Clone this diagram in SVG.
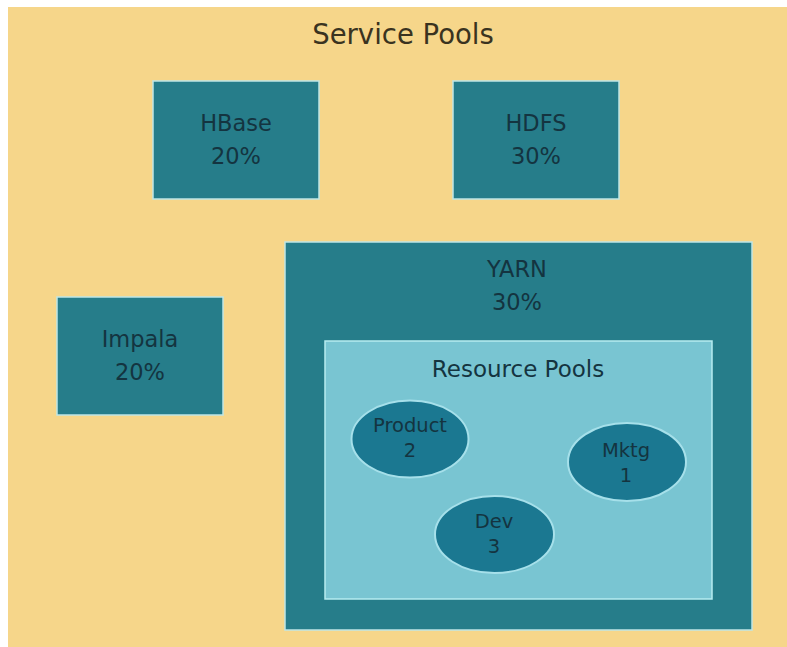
<svg xmlns="http://www.w3.org/2000/svg" width="787" height="647" viewBox="0 0 787 647">
<style>
.box{fill:#267d8a;stroke:#bfe6e6;stroke-width:1.5}
.inner{fill:#79c5d2;stroke:#b6ebf0;stroke-width:1.5}
.pool{fill:#1b7891;stroke:#a6e0ea;stroke-width:2}
text{font-family:"DejaVu Sans","Liberation Sans",sans-serif;fill:#143440;text-anchor:middle}
.t{font-size:27.5px;fill:#3a3320}
.l{font-size:22.5px}
.r{font-size:23px}
.s{font-size:19.5px}
</style>
<rect x="0" y="0" width="787" height="647" fill="#ffffff"/>
<rect id="bg" x="8" y="7" width="779" height="640" fill="#f6d68a"/>
<g id="title"><text class="t" x="403" y="44">Service Pools</text></g>
<g id="hbase"><rect class="box" x="153" y="81" width="166" height="118"/><text class="l" x="236" y="131">HBase</text><text class="l" x="236" y="164">20%</text></g>
<g id="hdfs"><rect class="box" x="453" y="81" width="166" height="118"/><text class="l" x="536" y="131">HDFS</text><text class="l" x="536" y="164">30%</text></g>
<g id="impala"><rect class="box" x="57" y="297" width="166" height="118"/><text class="l" x="140" y="347">Impala</text><text class="l" x="140" y="380">20%</text></g>
<g id="yarn"><rect class="box" x="285" y="242" width="467" height="388"/><text class="l" x="517" y="277">YARN</text><text class="l" x="517" y="310">30%</text></g>
<g id="resource-pools"><rect class="inner" x="325" y="341" width="387" height="258"/><text class="r" x="518" y="377">Resource Pools</text></g>
<g id="product"><ellipse class="pool" cx="410" cy="439" rx="58.5" ry="38.5"/><text class="s" x="410" y="432">Product</text><text class="s" x="410" y="457">2</text></g>
<g id="mktg"><ellipse class="pool" cx="627" cy="462" rx="59" ry="39"/><text class="s" x="626" y="457">Mktg</text><text class="s" x="626" y="482">1</text></g>
<g id="dev"><ellipse class="pool" cx="494.5" cy="534.5" rx="59.5" ry="38.5"/><text class="s" x="494" y="528">Dev</text><text class="s" x="494" y="553">3</text></g>
<g id="connectors"/>
</svg>
